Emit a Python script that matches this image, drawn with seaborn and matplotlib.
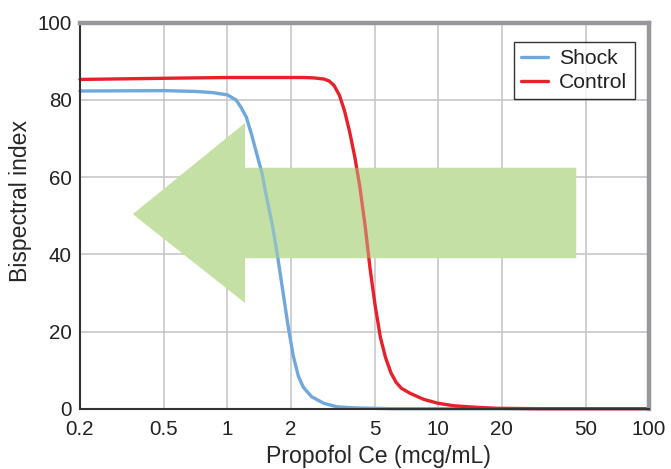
import pandas as pd
import matplotlib
matplotlib.use("Agg")
import matplotlib.pyplot as plt
import seaborn as sns
from matplotlib.patches import Polygon
from matplotlib.ticker import NullLocator

# Data (propofol effect-site conc vs BIS)
shock_conc = [0.2, 0.5, 0.7, 0.85, 1.0, 1.099, 1.163, 1.231, 1.303, 1.379,
              1.46, 1.545, 1.636, 1.731, 1.833, 1.94, 2.052, 2.17, 2.29,
              2.51, 2.87, 3.3, 4.0, 6.0, 100]
shock_bis = [82.3, 82.4, 82.2, 81.9, 81.3, 80.0, 78.0, 75.5, 71.0, 66.0,
             61.0, 54.0, 47.5, 39.5, 30.5, 21.5, 13.8, 8.5, 5.6,
             3.1, 1.4, 0.5, 0.2, 0.0, 0.0]

control_conc = [0.2, 0.5, 1.0, 2.0, 2.3, 2.57, 2.87, 3.04, 3.21, 3.40, 3.59,
                3.80, 4.02, 4.25, 4.50, 4.76, 5.03, 5.32, 5.63, 5.97, 6.32,
                6.69, 7.35, 8.56, 10, 11.9, 15.3, 19, 30, 100]
control_bis = [85.3, 85.6, 85.8, 85.8, 85.8, 85.7, 85.4, 84.9, 83.7, 81.2, 77.3,
               71.8, 65.3, 57.5, 47.5, 36.0, 26.5, 18.5, 13.2, 9.3, 6.8,
               5.3, 4.0, 2.4, 1.4, 0.75, 0.35, 0.1, 0.0, 0.0]

groups = ["Shock", "Control"]
colors = ["#6fa8dc", "#e8202a"]
x_ticks = [0.2, 0.5, 1, 2, 5, 10, 20, 50, 100]
x_tick_labels = ["0.2", "0.5", "1", "2", "5", "10", "20", "50", "100"]
y_ticks = [0, 20, 40, 60, 80, 100]

df = pd.concat([
    pd.DataFrame({"conc": shock_conc, "bis": shock_bis, "group": "Shock"}),
    pd.DataFrame({"conc": control_conc, "bis": control_bis, "group": "Control"}),
])

sns.set_style("white")
plt.rcParams["font.family"] = ["Liberation Sans", "DejaVu Sans"]
plt.rcParams["text.color"] = "#222222"

fig = plt.figure(figsize=(6.71, 4.69), dpi=100)
ax = fig.add_axes([80 / 671, 1 - 408.7 / 469, 569 / 671, 386 / 469])

# big green arrow (axes coordinates), drawn under the curves
arrow_pts = [(0.093, 0.504), (0.290, 0.740), (0.290, 0.624), (0.872, 0.624),
             (0.872, 0.390), (0.290, 0.390), (0.290, 0.274)]
ax.add_patch(Polygon(arrow_pts, closed=True, transform=ax.transAxes,
                     facecolor="#c5e0a5", edgecolor="none", zorder=1))

sns.lineplot(data=df, x="conc", y="bis", hue="group", hue_order=groups,
             palette=colors, linewidth=2.4, estimator=None, sort=False,
             ax=ax, zorder=2, clip_on=False)

# light veil of the arrow over the curves
ax.add_patch(Polygon(arrow_pts, closed=True, transform=ax.transAxes,
                     facecolor="#c5e0a5", edgecolor="none", alpha=0.4, zorder=3))

ax.set_xscale("log")
ax.set_xlim(0.2, 100)
ax.set_ylim(0, 100)
ax.set_xticks(x_ticks, x_tick_labels)
ax.xaxis.set_minor_locator(NullLocator())
ax.set_yticks(y_ticks)
ax.tick_params(axis="both", length=0, labelsize=14.8, colors="#222222")
ax.tick_params(axis="x", pad=8)
ax.tick_params(axis="y", pad=6)

ax.grid(True, color="#c4c4c8", linewidth=1.1)
ax.set_axisbelow(True)

for side in ["left", "bottom"]:
    ax.spines[side].set_color("#333333")
    ax.spines[side].set_linewidth(1.5)
for side in ["top", "right"]:
    ax.spines[side].set_color("#98989c")
    ax.spines[side].set_linewidth(3.2)

ax.set_xlabel("Propofol Ce (mcg/mL)", fontsize=16.6)
ax.set_ylabel("Bispectral index", fontsize=16.6)
ax.xaxis.set_label_coords((378 - 80) / 569, -0.093)
ax.yaxis.set_label_coords(-0.085, (408.7 - 200.5) / 386)

handles, labels = ax.get_legend_handles_labels()
leg = ax.legend(handles, labels, loc="upper right", bbox_to_anchor=(0.975, 0.95),
                borderaxespad=0, fontsize=15.2, frameon=True, fancybox=False,
                handlelength=1.25, handletextpad=0.55, labelspacing=0.22,
                borderpad=0.35)
leg.get_frame().set_edgecolor("black")
leg.get_frame().set_linewidth(1.0)
leg.set_zorder(5)

fig.savefig("out.png", dpi=100)
